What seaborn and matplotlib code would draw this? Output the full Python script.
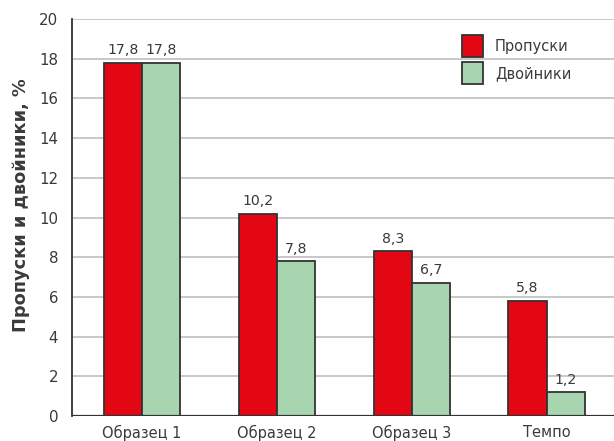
import matplotlib
matplotlib.use("Agg")
import matplotlib.pyplot as plt
import seaborn as sns
import pandas as pd
from matplotlib.patches import Patch

categories = ["Образец 1", "Образец 2", "Образец 3", "Темпо"]
series_names = ["Пропуски", "Двойники"]
propuski = [17.8, 10.2, 8.3, 5.8]
dvoiniki = [17.8, 7.8, 6.7, 1.2]
value_labels_p = ["17,8", "10,2", "8,3", "5,8"]
value_labels_d = ["17,8", "7,8", "6,7", "1,2"]
yticks = [0, 2, 4, 6, 8, 10, 12, 14, 16, 18, 20]

df = pd.DataFrame({
    "cat": categories * 2,
    "series": [series_names[0]] * 4 + [series_names[1]] * 4,
    "val": propuski + dvoiniki,
})

sns.set_style("white")
plt.rcParams["font.family"] = ["DejaVu Sans"]

colors = {"Пропуски": "#e30613", "Двойники": "#a7d5b0"}
txt = "#3a3a3a"

fig = plt.figure(figsize=(6.14, 4.41), dpi=100)
ax = fig.add_axes([72 / 614, 1 - 416 / 441, 1 - 72 / 614, (416 - 19) / 441])

sns.barplot(data=df, x="cat", y="val", hue="series", palette=colors,
            width=0.565, edgecolor="#333333", linewidth=1.3, ax=ax,
            legend=False, saturation=1)

ax.set_ylim(0, 20)
ax.set_xlim(-0.52, 3.5)
ax.set_yticks(yticks)
ax.set_yticklabels([str(t) for t in yticks], fontsize=10.8, color=txt)
ax.yaxis.grid(True, color="#c8c8c8", linewidth=1.4)
ax.set_axisbelow(True)
for s in ["top", "right", "bottom"]:
    ax.spines[s].set_visible(False)
ax.spines["left"].set_color("#333333")
ax.spines["left"].set_linewidth(1.3)
ax.axhline(0, color="#333333", linewidth=1.6, zorder=1)
ax.tick_params(axis="y", direction="inout", length=12, width=1.3, color="#333333", pad=4)
ax.tick_params(axis="x", length=0, pad=6.5, labelsize=10.5, labelcolor=txt)
ax.set_xlabel("")
ax.set_ylabel("Пропуски и двойники, %", fontsize=12.8, fontweight="bold", color=txt)
ax.yaxis.set_label_coords((30 - 72) / 542, (416 - 205) / 397)

for cont, labels in zip(ax.containers, [value_labels_p, value_labels_d]):
    ax.bar_label(cont, labels=labels, padding=4, fontsize=10.2, color=txt)

handles = [Patch(facecolor=colors[n], edgecolor="#333333", linewidth=1.3) for n in series_names]
leg = fig.legend(handles, series_names, loc="upper left",
                 bbox_to_anchor=(462 / 614, 1 - 35 / 441), bbox_transform=fig.transFigure,
                 frameon=False, fontsize=10.5, handlelength=1.45, handleheight=1.95,
                 handletextpad=0.8, labelspacing=0.35, borderpad=0, borderaxespad=0)
for t in leg.get_texts():
    t.set_color(txt)

fig.savefig("out.png", dpi=100)
